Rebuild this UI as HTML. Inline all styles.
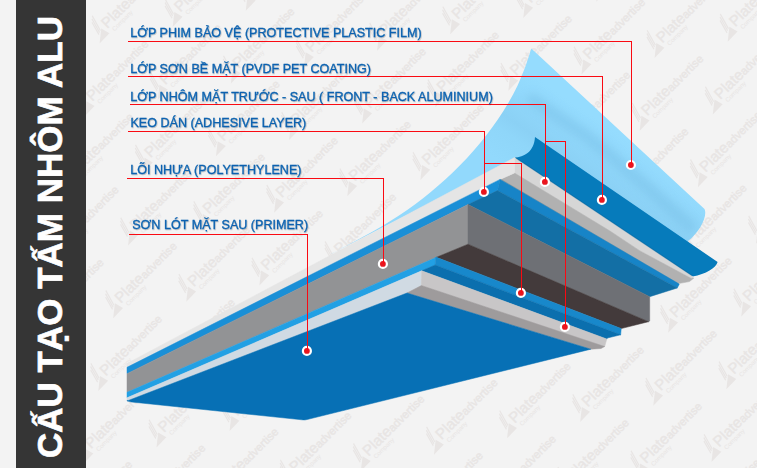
<!DOCTYPE html>
<html><head><meta charset="utf-8">
<style>
html,body{margin:0;padding:0;background:#f3f3f3;}
body{width:757px;height:468px;overflow:hidden;position:relative;font-family:"Liberation Sans",sans-serif;}
svg{position:absolute;left:0;top:0;display:block;}
.lb{font-family:"Liberation Sans",sans-serif;font-size:12.58px;fill:#0a62b0;stroke:#0a62b0;stroke-width:0.3px;}
</style></head><body>
<svg width="757" height="468" viewBox="0 0 757 468">
<defs>
<linearGradient id="filmg" x1="577.4" y1="214.5" x2="628.25" y2="140.25" gradientUnits="userSpaceOnUse">
<stop offset="0" stop-color="#92d9fc"/>
<stop offset="0.3" stop-color="#8fd6f9"/>
<stop offset="0.45" stop-color="#8bd1f5"/>
<stop offset="0.8" stop-color="#92d9fc"/>
<stop offset="1" stop-color="#95dcfe"/>
</linearGradient>
<filter id="blur4" x="-50%" y="-50%" width="200%" height="200%"><feGaussianBlur stdDeviation="4"/></filter>
<filter id="blur6" x="-50%" y="-50%" width="200%" height="200%"><feGaussianBlur stdDeviation="6"/></filter>
<filter id="tsh" x="-5%" y="-30%" width="110%" height="160%">
<feDropShadow dx="0.6" dy="0.8" stdDeviation="0.6" flood-color="#000" flood-opacity="0.28"/>
</filter>
</defs>
<rect x="0" y="0" width="757" height="468" fill="#f3f3f3"/>
<g>
<g fill="#e8e5e4"><g transform="translate(75.8,522.5)">
<g transform="rotate(-45)">
<g transform="translate(-1.7,-5.4)">
<path d="M-13.4,10.3 L0.8,10 L-1.6,0.9 Z"/>
<path d="M0.3,-14.5 L1.6,-14.5 L-3.1,1.8 L-4.4,1.8 Z"/>
<path d="M-2.1,-12.5 L-0.8,-12.5 L-5.0,2.5 L-6.3,2.5 Z"/>
<path d="M-4.5,-10 L-3.2,-10 L-6.9,3.5 L-8.2,3.5 Z"/>
</g>
<text x="0.5" y="0" font-family="Liberation Sans" font-size="15" stroke="#e8e5e4" stroke-width="0.35">Plate<tspan font-size="11.4">advertise</tspan></text>
<text x="4" y="7" font-family="Liberation Sans" font-size="6.2">Company</text>
</g></g>
<g transform="translate(90.7,449.7)">
<g transform="rotate(-45)">
<g transform="translate(-1.7,-5.4)">
<path d="M-13.4,10.3 L0.8,10 L-1.6,0.9 Z"/>
<path d="M0.3,-14.5 L1.6,-14.5 L-3.1,1.8 L-4.4,1.8 Z"/>
<path d="M-2.1,-12.5 L-0.8,-12.5 L-5.0,2.5 L-6.3,2.5 Z"/>
<path d="M-4.5,-10 L-3.2,-10 L-6.9,3.5 L-8.2,3.5 Z"/>
</g>
<text x="0.5" y="0" font-family="Liberation Sans" font-size="15" stroke="#e8e5e4" stroke-width="0.35">Plate<tspan font-size="11.4">advertise</tspan></text>
<text x="4" y="7" font-family="Liberation Sans" font-size="6.2">Company</text>
</g></g>
<g transform="translate(148.9,506.1)">
<g transform="rotate(-45)">
<g transform="translate(-1.7,-5.4)">
<path d="M-13.4,10.3 L0.8,10 L-1.6,0.9 Z"/>
<path d="M0.3,-14.5 L1.6,-14.5 L-3.1,1.8 L-4.4,1.8 Z"/>
<path d="M-2.1,-12.5 L-0.8,-12.5 L-5.0,2.5 L-6.3,2.5 Z"/>
<path d="M-4.5,-10 L-3.2,-10 L-6.9,3.5 L-8.2,3.5 Z"/>
</g>
<text x="0.5" y="0" font-family="Liberation Sans" font-size="15" stroke="#e8e5e4" stroke-width="0.35">Plate<tspan font-size="11.4">advertise</tspan></text>
<text x="4" y="7" font-family="Liberation Sans" font-size="6.2">Company</text>
</g></g>
<g transform="translate(47.3,320.5)">
<g transform="rotate(-45)">
<g transform="translate(-1.7,-5.4)">
<path d="M-13.4,10.3 L0.8,10 L-1.6,0.9 Z"/>
<path d="M0.3,-14.5 L1.6,-14.5 L-3.1,1.8 L-4.4,1.8 Z"/>
<path d="M-2.1,-12.5 L-0.8,-12.5 L-5.0,2.5 L-6.3,2.5 Z"/>
<path d="M-4.5,-10 L-3.2,-10 L-6.9,3.5 L-8.2,3.5 Z"/>
</g>
<text x="0.5" y="0" font-family="Liberation Sans" font-size="15" stroke="#e8e5e4" stroke-width="0.35">Plate<tspan font-size="11.4">advertise</tspan></text>
<text x="4" y="7" font-family="Liberation Sans" font-size="6.2">Company</text>
</g></g>
<g transform="translate(105.5,376.9)">
<g transform="rotate(-45)">
<g transform="translate(-1.7,-5.4)">
<path d="M-13.4,10.3 L0.8,10 L-1.6,0.9 Z"/>
<path d="M0.3,-14.5 L1.6,-14.5 L-3.1,1.8 L-4.4,1.8 Z"/>
<path d="M-2.1,-12.5 L-0.8,-12.5 L-5.0,2.5 L-6.3,2.5 Z"/>
<path d="M-4.5,-10 L-3.2,-10 L-6.9,3.5 L-8.2,3.5 Z"/>
</g>
<text x="0.5" y="0" font-family="Liberation Sans" font-size="15" stroke="#e8e5e4" stroke-width="0.35">Plate<tspan font-size="11.4">advertise</tspan></text>
<text x="4" y="7" font-family="Liberation Sans" font-size="6.2">Company</text>
</g></g>
<g transform="translate(163.7,433.3)">
<g transform="rotate(-45)">
<g transform="translate(-1.7,-5.4)">
<path d="M-13.4,10.3 L0.8,10 L-1.6,0.9 Z"/>
<path d="M0.3,-14.5 L1.6,-14.5 L-3.1,1.8 L-4.4,1.8 Z"/>
<path d="M-2.1,-12.5 L-0.8,-12.5 L-5.0,2.5 L-6.3,2.5 Z"/>
<path d="M-4.5,-10 L-3.2,-10 L-6.9,3.5 L-8.2,3.5 Z"/>
</g>
<text x="0.5" y="0" font-family="Liberation Sans" font-size="15" stroke="#e8e5e4" stroke-width="0.35">Plate<tspan font-size="11.4">advertise</tspan></text>
<text x="4" y="7" font-family="Liberation Sans" font-size="6.2">Company</text>
</g></g>
<g transform="translate(222.0,489.7)">
<g transform="rotate(-45)">
<g transform="translate(-1.7,-5.4)">
<path d="M-13.4,10.3 L0.8,10 L-1.6,0.9 Z"/>
<path d="M0.3,-14.5 L1.6,-14.5 L-3.1,1.8 L-4.4,1.8 Z"/>
<path d="M-2.1,-12.5 L-0.8,-12.5 L-5.0,2.5 L-6.3,2.5 Z"/>
<path d="M-4.5,-10 L-3.2,-10 L-6.9,3.5 L-8.2,3.5 Z"/>
</g>
<text x="0.5" y="0" font-family="Liberation Sans" font-size="15" stroke="#e8e5e4" stroke-width="0.35">Plate<tspan font-size="11.4">advertise</tspan></text>
<text x="4" y="7" font-family="Liberation Sans" font-size="6.2">Company</text>
</g></g>
<g transform="translate(62.2,247.7)">
<g transform="rotate(-45)">
<g transform="translate(-1.7,-5.4)">
<path d="M-13.4,10.3 L0.8,10 L-1.6,0.9 Z"/>
<path d="M0.3,-14.5 L1.6,-14.5 L-3.1,1.8 L-4.4,1.8 Z"/>
<path d="M-2.1,-12.5 L-0.8,-12.5 L-5.0,2.5 L-6.3,2.5 Z"/>
<path d="M-4.5,-10 L-3.2,-10 L-6.9,3.5 L-8.2,3.5 Z"/>
</g>
<text x="0.5" y="0" font-family="Liberation Sans" font-size="15" stroke="#e8e5e4" stroke-width="0.35">Plate<tspan font-size="11.4">advertise</tspan></text>
<text x="4" y="7" font-family="Liberation Sans" font-size="6.2">Company</text>
</g></g>
<g transform="translate(120.4,304.1)">
<g transform="rotate(-45)">
<g transform="translate(-1.7,-5.4)">
<path d="M-13.4,10.3 L0.8,10 L-1.6,0.9 Z"/>
<path d="M0.3,-14.5 L1.6,-14.5 L-3.1,1.8 L-4.4,1.8 Z"/>
<path d="M-2.1,-12.5 L-0.8,-12.5 L-5.0,2.5 L-6.3,2.5 Z"/>
<path d="M-4.5,-10 L-3.2,-10 L-6.9,3.5 L-8.2,3.5 Z"/>
</g>
<text x="0.5" y="0" font-family="Liberation Sans" font-size="15" stroke="#e8e5e4" stroke-width="0.35">Plate<tspan font-size="11.4">advertise</tspan></text>
<text x="4" y="7" font-family="Liberation Sans" font-size="6.2">Company</text>
</g></g>
<g transform="translate(178.6,360.5)">
<g transform="rotate(-45)">
<g transform="translate(-1.7,-5.4)">
<path d="M-13.4,10.3 L0.8,10 L-1.6,0.9 Z"/>
<path d="M0.3,-14.5 L1.6,-14.5 L-3.1,1.8 L-4.4,1.8 Z"/>
<path d="M-2.1,-12.5 L-0.8,-12.5 L-5.0,2.5 L-6.3,2.5 Z"/>
<path d="M-4.5,-10 L-3.2,-10 L-6.9,3.5 L-8.2,3.5 Z"/>
</g>
<text x="0.5" y="0" font-family="Liberation Sans" font-size="15" stroke="#e8e5e4" stroke-width="0.35">Plate<tspan font-size="11.4">advertise</tspan></text>
<text x="4" y="7" font-family="Liberation Sans" font-size="6.2">Company</text>
</g></g>
<g transform="translate(236.8,416.9)">
<g transform="rotate(-45)">
<g transform="translate(-1.7,-5.4)">
<path d="M-13.4,10.3 L0.8,10 L-1.6,0.9 Z"/>
<path d="M0.3,-14.5 L1.6,-14.5 L-3.1,1.8 L-4.4,1.8 Z"/>
<path d="M-2.1,-12.5 L-0.8,-12.5 L-5.0,2.5 L-6.3,2.5 Z"/>
<path d="M-4.5,-10 L-3.2,-10 L-6.9,3.5 L-8.2,3.5 Z"/>
</g>
<text x="0.5" y="0" font-family="Liberation Sans" font-size="15" stroke="#e8e5e4" stroke-width="0.35">Plate<tspan font-size="11.4">advertise</tspan></text>
<text x="4" y="7" font-family="Liberation Sans" font-size="6.2">Company</text>
</g></g>
<g transform="translate(295.0,473.4)">
<g transform="rotate(-45)">
<g transform="translate(-1.7,-5.4)">
<path d="M-13.4,10.3 L0.8,10 L-1.6,0.9 Z"/>
<path d="M0.3,-14.5 L1.6,-14.5 L-3.1,1.8 L-4.4,1.8 Z"/>
<path d="M-2.1,-12.5 L-0.8,-12.5 L-5.0,2.5 L-6.3,2.5 Z"/>
<path d="M-4.5,-10 L-3.2,-10 L-6.9,3.5 L-8.2,3.5 Z"/>
</g>
<text x="0.5" y="0" font-family="Liberation Sans" font-size="15" stroke="#e8e5e4" stroke-width="0.35">Plate<tspan font-size="11.4">advertise</tspan></text>
<text x="4" y="7" font-family="Liberation Sans" font-size="6.2">Company</text>
</g></g>
<g transform="translate(353.3,529.8)">
<g transform="rotate(-45)">
<g transform="translate(-1.7,-5.4)">
<path d="M-13.4,10.3 L0.8,10 L-1.6,0.9 Z"/>
<path d="M0.3,-14.5 L1.6,-14.5 L-3.1,1.8 L-4.4,1.8 Z"/>
<path d="M-2.1,-12.5 L-0.8,-12.5 L-5.0,2.5 L-6.3,2.5 Z"/>
<path d="M-4.5,-10 L-3.2,-10 L-6.9,3.5 L-8.2,3.5 Z"/>
</g>
<text x="0.5" y="0" font-family="Liberation Sans" font-size="15" stroke="#e8e5e4" stroke-width="0.35">Plate<tspan font-size="11.4">advertise</tspan></text>
<text x="4" y="7" font-family="Liberation Sans" font-size="6.2">Company</text>
</g></g>
<g transform="translate(77.0,174.9)">
<g transform="rotate(-45)">
<g transform="translate(-1.7,-5.4)">
<path d="M-13.4,10.3 L0.8,10 L-1.6,0.9 Z"/>
<path d="M0.3,-14.5 L1.6,-14.5 L-3.1,1.8 L-4.4,1.8 Z"/>
<path d="M-2.1,-12.5 L-0.8,-12.5 L-5.0,2.5 L-6.3,2.5 Z"/>
<path d="M-4.5,-10 L-3.2,-10 L-6.9,3.5 L-8.2,3.5 Z"/>
</g>
<text x="0.5" y="0" font-family="Liberation Sans" font-size="15" stroke="#e8e5e4" stroke-width="0.35">Plate<tspan font-size="11.4">advertise</tspan></text>
<text x="4" y="7" font-family="Liberation Sans" font-size="6.2">Company</text>
</g></g>
<g transform="translate(135.3,231.3)">
<g transform="rotate(-45)">
<g transform="translate(-1.7,-5.4)">
<path d="M-13.4,10.3 L0.8,10 L-1.6,0.9 Z"/>
<path d="M0.3,-14.5 L1.6,-14.5 L-3.1,1.8 L-4.4,1.8 Z"/>
<path d="M-2.1,-12.5 L-0.8,-12.5 L-5.0,2.5 L-6.3,2.5 Z"/>
<path d="M-4.5,-10 L-3.2,-10 L-6.9,3.5 L-8.2,3.5 Z"/>
</g>
<text x="0.5" y="0" font-family="Liberation Sans" font-size="15" stroke="#e8e5e4" stroke-width="0.35">Plate<tspan font-size="11.4">advertise</tspan></text>
<text x="4" y="7" font-family="Liberation Sans" font-size="6.2">Company</text>
</g></g>
<g transform="translate(193.5,287.7)">
<g transform="rotate(-45)">
<g transform="translate(-1.7,-5.4)">
<path d="M-13.4,10.3 L0.8,10 L-1.6,0.9 Z"/>
<path d="M0.3,-14.5 L1.6,-14.5 L-3.1,1.8 L-4.4,1.8 Z"/>
<path d="M-2.1,-12.5 L-0.8,-12.5 L-5.0,2.5 L-6.3,2.5 Z"/>
<path d="M-4.5,-10 L-3.2,-10 L-6.9,3.5 L-8.2,3.5 Z"/>
</g>
<text x="0.5" y="0" font-family="Liberation Sans" font-size="15" stroke="#e8e5e4" stroke-width="0.35">Plate<tspan font-size="11.4">advertise</tspan></text>
<text x="4" y="7" font-family="Liberation Sans" font-size="6.2">Company</text>
</g></g>
<g transform="translate(251.7,344.1)">
<g transform="rotate(-45)">
<g transform="translate(-1.7,-5.4)">
<path d="M-13.4,10.3 L0.8,10 L-1.6,0.9 Z"/>
<path d="M0.3,-14.5 L1.6,-14.5 L-3.1,1.8 L-4.4,1.8 Z"/>
<path d="M-2.1,-12.5 L-0.8,-12.5 L-5.0,2.5 L-6.3,2.5 Z"/>
<path d="M-4.5,-10 L-3.2,-10 L-6.9,3.5 L-8.2,3.5 Z"/>
</g>
<text x="0.5" y="0" font-family="Liberation Sans" font-size="15" stroke="#e8e5e4" stroke-width="0.35">Plate<tspan font-size="11.4">advertise</tspan></text>
<text x="4" y="7" font-family="Liberation Sans" font-size="6.2">Company</text>
</g></g>
<g transform="translate(309.9,400.6)">
<g transform="rotate(-45)">
<g transform="translate(-1.7,-5.4)">
<path d="M-13.4,10.3 L0.8,10 L-1.6,0.9 Z"/>
<path d="M0.3,-14.5 L1.6,-14.5 L-3.1,1.8 L-4.4,1.8 Z"/>
<path d="M-2.1,-12.5 L-0.8,-12.5 L-5.0,2.5 L-6.3,2.5 Z"/>
<path d="M-4.5,-10 L-3.2,-10 L-6.9,3.5 L-8.2,3.5 Z"/>
</g>
<text x="0.5" y="0" font-family="Liberation Sans" font-size="15" stroke="#e8e5e4" stroke-width="0.35">Plate<tspan font-size="11.4">advertise</tspan></text>
<text x="4" y="7" font-family="Liberation Sans" font-size="6.2">Company</text>
</g></g>
<g transform="translate(368.1,457.0)">
<g transform="rotate(-45)">
<g transform="translate(-1.7,-5.4)">
<path d="M-13.4,10.3 L0.8,10 L-1.6,0.9 Z"/>
<path d="M0.3,-14.5 L1.6,-14.5 L-3.1,1.8 L-4.4,1.8 Z"/>
<path d="M-2.1,-12.5 L-0.8,-12.5 L-5.0,2.5 L-6.3,2.5 Z"/>
<path d="M-4.5,-10 L-3.2,-10 L-6.9,3.5 L-8.2,3.5 Z"/>
</g>
<text x="0.5" y="0" font-family="Liberation Sans" font-size="15" stroke="#e8e5e4" stroke-width="0.35">Plate<tspan font-size="11.4">advertise</tspan></text>
<text x="4" y="7" font-family="Liberation Sans" font-size="6.2">Company</text>
</g></g>
<g transform="translate(426.4,513.4)">
<g transform="rotate(-45)">
<g transform="translate(-1.7,-5.4)">
<path d="M-13.4,10.3 L0.8,10 L-1.6,0.9 Z"/>
<path d="M0.3,-14.5 L1.6,-14.5 L-3.1,1.8 L-4.4,1.8 Z"/>
<path d="M-2.1,-12.5 L-0.8,-12.5 L-5.0,2.5 L-6.3,2.5 Z"/>
<path d="M-4.5,-10 L-3.2,-10 L-6.9,3.5 L-8.2,3.5 Z"/>
</g>
<text x="0.5" y="0" font-family="Liberation Sans" font-size="15" stroke="#e8e5e4" stroke-width="0.35">Plate<tspan font-size="11.4">advertise</tspan></text>
<text x="4" y="7" font-family="Liberation Sans" font-size="6.2">Company</text>
</g></g>
<g transform="translate(91.9,102.1)">
<g transform="rotate(-45)">
<g transform="translate(-1.7,-5.4)">
<path d="M-13.4,10.3 L0.8,10 L-1.6,0.9 Z"/>
<path d="M0.3,-14.5 L1.6,-14.5 L-3.1,1.8 L-4.4,1.8 Z"/>
<path d="M-2.1,-12.5 L-0.8,-12.5 L-5.0,2.5 L-6.3,2.5 Z"/>
<path d="M-4.5,-10 L-3.2,-10 L-6.9,3.5 L-8.2,3.5 Z"/>
</g>
<text x="0.5" y="0" font-family="Liberation Sans" font-size="15" stroke="#e8e5e4" stroke-width="0.35">Plate<tspan font-size="11.4">advertise</tspan></text>
<text x="4" y="7" font-family="Liberation Sans" font-size="6.2">Company</text>
</g></g>
<g transform="translate(150.1,158.5)">
<g transform="rotate(-45)">
<g transform="translate(-1.7,-5.4)">
<path d="M-13.4,10.3 L0.8,10 L-1.6,0.9 Z"/>
<path d="M0.3,-14.5 L1.6,-14.5 L-3.1,1.8 L-4.4,1.8 Z"/>
<path d="M-2.1,-12.5 L-0.8,-12.5 L-5.0,2.5 L-6.3,2.5 Z"/>
<path d="M-4.5,-10 L-3.2,-10 L-6.9,3.5 L-8.2,3.5 Z"/>
</g>
<text x="0.5" y="0" font-family="Liberation Sans" font-size="15" stroke="#e8e5e4" stroke-width="0.35">Plate<tspan font-size="11.4">advertise</tspan></text>
<text x="4" y="7" font-family="Liberation Sans" font-size="6.2">Company</text>
</g></g>
<g transform="translate(208.4,214.9)">
<g transform="rotate(-45)">
<g transform="translate(-1.7,-5.4)">
<path d="M-13.4,10.3 L0.8,10 L-1.6,0.9 Z"/>
<path d="M0.3,-14.5 L1.6,-14.5 L-3.1,1.8 L-4.4,1.8 Z"/>
<path d="M-2.1,-12.5 L-0.8,-12.5 L-5.0,2.5 L-6.3,2.5 Z"/>
<path d="M-4.5,-10 L-3.2,-10 L-6.9,3.5 L-8.2,3.5 Z"/>
</g>
<text x="0.5" y="0" font-family="Liberation Sans" font-size="15" stroke="#e8e5e4" stroke-width="0.35">Plate<tspan font-size="11.4">advertise</tspan></text>
<text x="4" y="7" font-family="Liberation Sans" font-size="6.2">Company</text>
</g></g>
<g transform="translate(266.6,271.4)">
<g transform="rotate(-45)">
<g transform="translate(-1.7,-5.4)">
<path d="M-13.4,10.3 L0.8,10 L-1.6,0.9 Z"/>
<path d="M0.3,-14.5 L1.6,-14.5 L-3.1,1.8 L-4.4,1.8 Z"/>
<path d="M-2.1,-12.5 L-0.8,-12.5 L-5.0,2.5 L-6.3,2.5 Z"/>
<path d="M-4.5,-10 L-3.2,-10 L-6.9,3.5 L-8.2,3.5 Z"/>
</g>
<text x="0.5" y="0" font-family="Liberation Sans" font-size="15" stroke="#e8e5e4" stroke-width="0.35">Plate<tspan font-size="11.4">advertise</tspan></text>
<text x="4" y="7" font-family="Liberation Sans" font-size="6.2">Company</text>
</g></g>
<g transform="translate(324.8,327.8)">
<g transform="rotate(-45)">
<g transform="translate(-1.7,-5.4)">
<path d="M-13.4,10.3 L0.8,10 L-1.6,0.9 Z"/>
<path d="M0.3,-14.5 L1.6,-14.5 L-3.1,1.8 L-4.4,1.8 Z"/>
<path d="M-2.1,-12.5 L-0.8,-12.5 L-5.0,2.5 L-6.3,2.5 Z"/>
<path d="M-4.5,-10 L-3.2,-10 L-6.9,3.5 L-8.2,3.5 Z"/>
</g>
<text x="0.5" y="0" font-family="Liberation Sans" font-size="15" stroke="#e8e5e4" stroke-width="0.35">Plate<tspan font-size="11.4">advertise</tspan></text>
<text x="4" y="7" font-family="Liberation Sans" font-size="6.2">Company</text>
</g></g>
<g transform="translate(383.0,384.2)">
<g transform="rotate(-45)">
<g transform="translate(-1.7,-5.4)">
<path d="M-13.4,10.3 L0.8,10 L-1.6,0.9 Z"/>
<path d="M0.3,-14.5 L1.6,-14.5 L-3.1,1.8 L-4.4,1.8 Z"/>
<path d="M-2.1,-12.5 L-0.8,-12.5 L-5.0,2.5 L-6.3,2.5 Z"/>
<path d="M-4.5,-10 L-3.2,-10 L-6.9,3.5 L-8.2,3.5 Z"/>
</g>
<text x="0.5" y="0" font-family="Liberation Sans" font-size="15" stroke="#e8e5e4" stroke-width="0.35">Plate<tspan font-size="11.4">advertise</tspan></text>
<text x="4" y="7" font-family="Liberation Sans" font-size="6.2">Company</text>
</g></g>
<g transform="translate(441.2,440.6)">
<g transform="rotate(-45)">
<g transform="translate(-1.7,-5.4)">
<path d="M-13.4,10.3 L0.8,10 L-1.6,0.9 Z"/>
<path d="M0.3,-14.5 L1.6,-14.5 L-3.1,1.8 L-4.4,1.8 Z"/>
<path d="M-2.1,-12.5 L-0.8,-12.5 L-5.0,2.5 L-6.3,2.5 Z"/>
<path d="M-4.5,-10 L-3.2,-10 L-6.9,3.5 L-8.2,3.5 Z"/>
</g>
<text x="0.5" y="0" font-family="Liberation Sans" font-size="15" stroke="#e8e5e4" stroke-width="0.35">Plate<tspan font-size="11.4">advertise</tspan></text>
<text x="4" y="7" font-family="Liberation Sans" font-size="6.2">Company</text>
</g></g>
<g transform="translate(499.5,497.0)">
<g transform="rotate(-45)">
<g transform="translate(-1.7,-5.4)">
<path d="M-13.4,10.3 L0.8,10 L-1.6,0.9 Z"/>
<path d="M0.3,-14.5 L1.6,-14.5 L-3.1,1.8 L-4.4,1.8 Z"/>
<path d="M-2.1,-12.5 L-0.8,-12.5 L-5.0,2.5 L-6.3,2.5 Z"/>
<path d="M-4.5,-10 L-3.2,-10 L-6.9,3.5 L-8.2,3.5 Z"/>
</g>
<text x="0.5" y="0" font-family="Liberation Sans" font-size="15" stroke="#e8e5e4" stroke-width="0.35">Plate<tspan font-size="11.4">advertise</tspan></text>
<text x="4" y="7" font-family="Liberation Sans" font-size="6.2">Company</text>
</g></g>
<g transform="translate(48.6,-27.1)">
<g transform="rotate(-45)">
<g transform="translate(-1.7,-5.4)">
<path d="M-13.4,10.3 L0.8,10 L-1.6,0.9 Z"/>
<path d="M0.3,-14.5 L1.6,-14.5 L-3.1,1.8 L-4.4,1.8 Z"/>
<path d="M-2.1,-12.5 L-0.8,-12.5 L-5.0,2.5 L-6.3,2.5 Z"/>
<path d="M-4.5,-10 L-3.2,-10 L-6.9,3.5 L-8.2,3.5 Z"/>
</g>
<text x="0.5" y="0" font-family="Liberation Sans" font-size="15" stroke="#e8e5e4" stroke-width="0.35">Plate<tspan font-size="11.4">advertise</tspan></text>
<text x="4" y="7" font-family="Liberation Sans" font-size="6.2">Company</text>
</g></g>
<g transform="translate(106.8,29.3)">
<g transform="rotate(-45)">
<g transform="translate(-1.7,-5.4)">
<path d="M-13.4,10.3 L0.8,10 L-1.6,0.9 Z"/>
<path d="M0.3,-14.5 L1.6,-14.5 L-3.1,1.8 L-4.4,1.8 Z"/>
<path d="M-2.1,-12.5 L-0.8,-12.5 L-5.0,2.5 L-6.3,2.5 Z"/>
<path d="M-4.5,-10 L-3.2,-10 L-6.9,3.5 L-8.2,3.5 Z"/>
</g>
<text x="0.5" y="0" font-family="Liberation Sans" font-size="15" stroke="#e8e5e4" stroke-width="0.35">Plate<tspan font-size="11.4">advertise</tspan></text>
<text x="4" y="7" font-family="Liberation Sans" font-size="6.2">Company</text>
</g></g>
<g transform="translate(165.0,85.7)">
<g transform="rotate(-45)">
<g transform="translate(-1.7,-5.4)">
<path d="M-13.4,10.3 L0.8,10 L-1.6,0.9 Z"/>
<path d="M0.3,-14.5 L1.6,-14.5 L-3.1,1.8 L-4.4,1.8 Z"/>
<path d="M-2.1,-12.5 L-0.8,-12.5 L-5.0,2.5 L-6.3,2.5 Z"/>
<path d="M-4.5,-10 L-3.2,-10 L-6.9,3.5 L-8.2,3.5 Z"/>
</g>
<text x="0.5" y="0" font-family="Liberation Sans" font-size="15" stroke="#e8e5e4" stroke-width="0.35">Plate<tspan font-size="11.4">advertise</tspan></text>
<text x="4" y="7" font-family="Liberation Sans" font-size="6.2">Company</text>
</g></g>
<g transform="translate(223.2,142.1)">
<g transform="rotate(-45)">
<g transform="translate(-1.7,-5.4)">
<path d="M-13.4,10.3 L0.8,10 L-1.6,0.9 Z"/>
<path d="M0.3,-14.5 L1.6,-14.5 L-3.1,1.8 L-4.4,1.8 Z"/>
<path d="M-2.1,-12.5 L-0.8,-12.5 L-5.0,2.5 L-6.3,2.5 Z"/>
<path d="M-4.5,-10 L-3.2,-10 L-6.9,3.5 L-8.2,3.5 Z"/>
</g>
<text x="0.5" y="0" font-family="Liberation Sans" font-size="15" stroke="#e8e5e4" stroke-width="0.35">Plate<tspan font-size="11.4">advertise</tspan></text>
<text x="4" y="7" font-family="Liberation Sans" font-size="6.2">Company</text>
</g></g>
<g transform="translate(281.4,198.6)">
<g transform="rotate(-45)">
<g transform="translate(-1.7,-5.4)">
<path d="M-13.4,10.3 L0.8,10 L-1.6,0.9 Z"/>
<path d="M0.3,-14.5 L1.6,-14.5 L-3.1,1.8 L-4.4,1.8 Z"/>
<path d="M-2.1,-12.5 L-0.8,-12.5 L-5.0,2.5 L-6.3,2.5 Z"/>
<path d="M-4.5,-10 L-3.2,-10 L-6.9,3.5 L-8.2,3.5 Z"/>
</g>
<text x="0.5" y="0" font-family="Liberation Sans" font-size="15" stroke="#e8e5e4" stroke-width="0.35">Plate<tspan font-size="11.4">advertise</tspan></text>
<text x="4" y="7" font-family="Liberation Sans" font-size="6.2">Company</text>
</g></g>
<g transform="translate(339.7,255.0)">
<g transform="rotate(-45)">
<g transform="translate(-1.7,-5.4)">
<path d="M-13.4,10.3 L0.8,10 L-1.6,0.9 Z"/>
<path d="M0.3,-14.5 L1.6,-14.5 L-3.1,1.8 L-4.4,1.8 Z"/>
<path d="M-2.1,-12.5 L-0.8,-12.5 L-5.0,2.5 L-6.3,2.5 Z"/>
<path d="M-4.5,-10 L-3.2,-10 L-6.9,3.5 L-8.2,3.5 Z"/>
</g>
<text x="0.5" y="0" font-family="Liberation Sans" font-size="15" stroke="#e8e5e4" stroke-width="0.35">Plate<tspan font-size="11.4">advertise</tspan></text>
<text x="4" y="7" font-family="Liberation Sans" font-size="6.2">Company</text>
</g></g>
<g transform="translate(397.9,311.4)">
<g transform="rotate(-45)">
<g transform="translate(-1.7,-5.4)">
<path d="M-13.4,10.3 L0.8,10 L-1.6,0.9 Z"/>
<path d="M0.3,-14.5 L1.6,-14.5 L-3.1,1.8 L-4.4,1.8 Z"/>
<path d="M-2.1,-12.5 L-0.8,-12.5 L-5.0,2.5 L-6.3,2.5 Z"/>
<path d="M-4.5,-10 L-3.2,-10 L-6.9,3.5 L-8.2,3.5 Z"/>
</g>
<text x="0.5" y="0" font-family="Liberation Sans" font-size="15" stroke="#e8e5e4" stroke-width="0.35">Plate<tspan font-size="11.4">advertise</tspan></text>
<text x="4" y="7" font-family="Liberation Sans" font-size="6.2">Company</text>
</g></g>
<g transform="translate(456.1,367.8)">
<g transform="rotate(-45)">
<g transform="translate(-1.7,-5.4)">
<path d="M-13.4,10.3 L0.8,10 L-1.6,0.9 Z"/>
<path d="M0.3,-14.5 L1.6,-14.5 L-3.1,1.8 L-4.4,1.8 Z"/>
<path d="M-2.1,-12.5 L-0.8,-12.5 L-5.0,2.5 L-6.3,2.5 Z"/>
<path d="M-4.5,-10 L-3.2,-10 L-6.9,3.5 L-8.2,3.5 Z"/>
</g>
<text x="0.5" y="0" font-family="Liberation Sans" font-size="15" stroke="#e8e5e4" stroke-width="0.35">Plate<tspan font-size="11.4">advertise</tspan></text>
<text x="4" y="7" font-family="Liberation Sans" font-size="6.2">Company</text>
</g></g>
<g transform="translate(514.3,424.2)">
<g transform="rotate(-45)">
<g transform="translate(-1.7,-5.4)">
<path d="M-13.4,10.3 L0.8,10 L-1.6,0.9 Z"/>
<path d="M0.3,-14.5 L1.6,-14.5 L-3.1,1.8 L-4.4,1.8 Z"/>
<path d="M-2.1,-12.5 L-0.8,-12.5 L-5.0,2.5 L-6.3,2.5 Z"/>
<path d="M-4.5,-10 L-3.2,-10 L-6.9,3.5 L-8.2,3.5 Z"/>
</g>
<text x="0.5" y="0" font-family="Liberation Sans" font-size="15" stroke="#e8e5e4" stroke-width="0.35">Plate<tspan font-size="11.4">advertise</tspan></text>
<text x="4" y="7" font-family="Liberation Sans" font-size="6.2">Company</text>
</g></g>
<g transform="translate(572.5,480.7)">
<g transform="rotate(-45)">
<g transform="translate(-1.7,-5.4)">
<path d="M-13.4,10.3 L0.8,10 L-1.6,0.9 Z"/>
<path d="M0.3,-14.5 L1.6,-14.5 L-3.1,1.8 L-4.4,1.8 Z"/>
<path d="M-2.1,-12.5 L-0.8,-12.5 L-5.0,2.5 L-6.3,2.5 Z"/>
<path d="M-4.5,-10 L-3.2,-10 L-6.9,3.5 L-8.2,3.5 Z"/>
</g>
<text x="0.5" y="0" font-family="Liberation Sans" font-size="15" stroke="#e8e5e4" stroke-width="0.35">Plate<tspan font-size="11.4">advertise</tspan></text>
<text x="4" y="7" font-family="Liberation Sans" font-size="6.2">Company</text>
</g></g>
<g transform="translate(630.8,537.1)">
<g transform="rotate(-45)">
<g transform="translate(-1.7,-5.4)">
<path d="M-13.4,10.3 L0.8,10 L-1.6,0.9 Z"/>
<path d="M0.3,-14.5 L1.6,-14.5 L-3.1,1.8 L-4.4,1.8 Z"/>
<path d="M-2.1,-12.5 L-0.8,-12.5 L-5.0,2.5 L-6.3,2.5 Z"/>
<path d="M-4.5,-10 L-3.2,-10 L-6.9,3.5 L-8.2,3.5 Z"/>
</g>
<text x="0.5" y="0" font-family="Liberation Sans" font-size="15" stroke="#e8e5e4" stroke-width="0.35">Plate<tspan font-size="11.4">advertise</tspan></text>
<text x="4" y="7" font-family="Liberation Sans" font-size="6.2">Company</text>
</g></g>
<g transform="translate(179.9,12.9)">
<g transform="rotate(-45)">
<g transform="translate(-1.7,-5.4)">
<path d="M-13.4,10.3 L0.8,10 L-1.6,0.9 Z"/>
<path d="M0.3,-14.5 L1.6,-14.5 L-3.1,1.8 L-4.4,1.8 Z"/>
<path d="M-2.1,-12.5 L-0.8,-12.5 L-5.0,2.5 L-6.3,2.5 Z"/>
<path d="M-4.5,-10 L-3.2,-10 L-6.9,3.5 L-8.2,3.5 Z"/>
</g>
<text x="0.5" y="0" font-family="Liberation Sans" font-size="15" stroke="#e8e5e4" stroke-width="0.35">Plate<tspan font-size="11.4">advertise</tspan></text>
<text x="4" y="7" font-family="Liberation Sans" font-size="6.2">Company</text>
</g></g>
<g transform="translate(238.1,69.4)">
<g transform="rotate(-45)">
<g transform="translate(-1.7,-5.4)">
<path d="M-13.4,10.3 L0.8,10 L-1.6,0.9 Z"/>
<path d="M0.3,-14.5 L1.6,-14.5 L-3.1,1.8 L-4.4,1.8 Z"/>
<path d="M-2.1,-12.5 L-0.8,-12.5 L-5.0,2.5 L-6.3,2.5 Z"/>
<path d="M-4.5,-10 L-3.2,-10 L-6.9,3.5 L-8.2,3.5 Z"/>
</g>
<text x="0.5" y="0" font-family="Liberation Sans" font-size="15" stroke="#e8e5e4" stroke-width="0.35">Plate<tspan font-size="11.4">advertise</tspan></text>
<text x="4" y="7" font-family="Liberation Sans" font-size="6.2">Company</text>
</g></g>
<g transform="translate(296.3,125.8)">
<g transform="rotate(-45)">
<g transform="translate(-1.7,-5.4)">
<path d="M-13.4,10.3 L0.8,10 L-1.6,0.9 Z"/>
<path d="M0.3,-14.5 L1.6,-14.5 L-3.1,1.8 L-4.4,1.8 Z"/>
<path d="M-2.1,-12.5 L-0.8,-12.5 L-5.0,2.5 L-6.3,2.5 Z"/>
<path d="M-4.5,-10 L-3.2,-10 L-6.9,3.5 L-8.2,3.5 Z"/>
</g>
<text x="0.5" y="0" font-family="Liberation Sans" font-size="15" stroke="#e8e5e4" stroke-width="0.35">Plate<tspan font-size="11.4">advertise</tspan></text>
<text x="4" y="7" font-family="Liberation Sans" font-size="6.2">Company</text>
</g></g>
<g transform="translate(354.5,182.2)">
<g transform="rotate(-45)">
<g transform="translate(-1.7,-5.4)">
<path d="M-13.4,10.3 L0.8,10 L-1.6,0.9 Z"/>
<path d="M0.3,-14.5 L1.6,-14.5 L-3.1,1.8 L-4.4,1.8 Z"/>
<path d="M-2.1,-12.5 L-0.8,-12.5 L-5.0,2.5 L-6.3,2.5 Z"/>
<path d="M-4.5,-10 L-3.2,-10 L-6.9,3.5 L-8.2,3.5 Z"/>
</g>
<text x="0.5" y="0" font-family="Liberation Sans" font-size="15" stroke="#e8e5e4" stroke-width="0.35">Plate<tspan font-size="11.4">advertise</tspan></text>
<text x="4" y="7" font-family="Liberation Sans" font-size="6.2">Company</text>
</g></g>
<g transform="translate(412.8,238.6)">
<g transform="rotate(-45)">
<g transform="translate(-1.7,-5.4)">
<path d="M-13.4,10.3 L0.8,10 L-1.6,0.9 Z"/>
<path d="M0.3,-14.5 L1.6,-14.5 L-3.1,1.8 L-4.4,1.8 Z"/>
<path d="M-2.1,-12.5 L-0.8,-12.5 L-5.0,2.5 L-6.3,2.5 Z"/>
<path d="M-4.5,-10 L-3.2,-10 L-6.9,3.5 L-8.2,3.5 Z"/>
</g>
<text x="0.5" y="0" font-family="Liberation Sans" font-size="15" stroke="#e8e5e4" stroke-width="0.35">Plate<tspan font-size="11.4">advertise</tspan></text>
<text x="4" y="7" font-family="Liberation Sans" font-size="6.2">Company</text>
</g></g>
<g transform="translate(471.0,295.0)">
<g transform="rotate(-45)">
<g transform="translate(-1.7,-5.4)">
<path d="M-13.4,10.3 L0.8,10 L-1.6,0.9 Z"/>
<path d="M0.3,-14.5 L1.6,-14.5 L-3.1,1.8 L-4.4,1.8 Z"/>
<path d="M-2.1,-12.5 L-0.8,-12.5 L-5.0,2.5 L-6.3,2.5 Z"/>
<path d="M-4.5,-10 L-3.2,-10 L-6.9,3.5 L-8.2,3.5 Z"/>
</g>
<text x="0.5" y="0" font-family="Liberation Sans" font-size="15" stroke="#e8e5e4" stroke-width="0.35">Plate<tspan font-size="11.4">advertise</tspan></text>
<text x="4" y="7" font-family="Liberation Sans" font-size="6.2">Company</text>
</g></g>
<g transform="translate(529.2,351.4)">
<g transform="rotate(-45)">
<g transform="translate(-1.7,-5.4)">
<path d="M-13.4,10.3 L0.8,10 L-1.6,0.9 Z"/>
<path d="M0.3,-14.5 L1.6,-14.5 L-3.1,1.8 L-4.4,1.8 Z"/>
<path d="M-2.1,-12.5 L-0.8,-12.5 L-5.0,2.5 L-6.3,2.5 Z"/>
<path d="M-4.5,-10 L-3.2,-10 L-6.9,3.5 L-8.2,3.5 Z"/>
</g>
<text x="0.5" y="0" font-family="Liberation Sans" font-size="15" stroke="#e8e5e4" stroke-width="0.35">Plate<tspan font-size="11.4">advertise</tspan></text>
<text x="4" y="7" font-family="Liberation Sans" font-size="6.2">Company</text>
</g></g>
<g transform="translate(587.4,407.9)">
<g transform="rotate(-45)">
<g transform="translate(-1.7,-5.4)">
<path d="M-13.4,10.3 L0.8,10 L-1.6,0.9 Z"/>
<path d="M0.3,-14.5 L1.6,-14.5 L-3.1,1.8 L-4.4,1.8 Z"/>
<path d="M-2.1,-12.5 L-0.8,-12.5 L-5.0,2.5 L-6.3,2.5 Z"/>
<path d="M-4.5,-10 L-3.2,-10 L-6.9,3.5 L-8.2,3.5 Z"/>
</g>
<text x="0.5" y="0" font-family="Liberation Sans" font-size="15" stroke="#e8e5e4" stroke-width="0.35">Plate<tspan font-size="11.4">advertise</tspan></text>
<text x="4" y="7" font-family="Liberation Sans" font-size="6.2">Company</text>
</g></g>
<g transform="translate(645.6,464.3)">
<g transform="rotate(-45)">
<g transform="translate(-1.7,-5.4)">
<path d="M-13.4,10.3 L0.8,10 L-1.6,0.9 Z"/>
<path d="M0.3,-14.5 L1.6,-14.5 L-3.1,1.8 L-4.4,1.8 Z"/>
<path d="M-2.1,-12.5 L-0.8,-12.5 L-5.0,2.5 L-6.3,2.5 Z"/>
<path d="M-4.5,-10 L-3.2,-10 L-6.9,3.5 L-8.2,3.5 Z"/>
</g>
<text x="0.5" y="0" font-family="Liberation Sans" font-size="15" stroke="#e8e5e4" stroke-width="0.35">Plate<tspan font-size="11.4">advertise</tspan></text>
<text x="4" y="7" font-family="Liberation Sans" font-size="6.2">Company</text>
</g></g>
<g transform="translate(703.8,520.7)">
<g transform="rotate(-45)">
<g transform="translate(-1.7,-5.4)">
<path d="M-13.4,10.3 L0.8,10 L-1.6,0.9 Z"/>
<path d="M0.3,-14.5 L1.6,-14.5 L-3.1,1.8 L-4.4,1.8 Z"/>
<path d="M-2.1,-12.5 L-0.8,-12.5 L-5.0,2.5 L-6.3,2.5 Z"/>
<path d="M-4.5,-10 L-3.2,-10 L-6.9,3.5 L-8.2,3.5 Z"/>
</g>
<text x="0.5" y="0" font-family="Liberation Sans" font-size="15" stroke="#e8e5e4" stroke-width="0.35">Plate<tspan font-size="11.4">advertise</tspan></text>
<text x="4" y="7" font-family="Liberation Sans" font-size="6.2">Company</text>
</g></g>
<g transform="translate(253.0,-3.4)">
<g transform="rotate(-45)">
<g transform="translate(-1.7,-5.4)">
<path d="M-13.4,10.3 L0.8,10 L-1.6,0.9 Z"/>
<path d="M0.3,-14.5 L1.6,-14.5 L-3.1,1.8 L-4.4,1.8 Z"/>
<path d="M-2.1,-12.5 L-0.8,-12.5 L-5.0,2.5 L-6.3,2.5 Z"/>
<path d="M-4.5,-10 L-3.2,-10 L-6.9,3.5 L-8.2,3.5 Z"/>
</g>
<text x="0.5" y="0" font-family="Liberation Sans" font-size="15" stroke="#e8e5e4" stroke-width="0.35">Plate<tspan font-size="11.4">advertise</tspan></text>
<text x="4" y="7" font-family="Liberation Sans" font-size="6.2">Company</text>
</g></g>
<g transform="translate(311.2,53.0)">
<g transform="rotate(-45)">
<g transform="translate(-1.7,-5.4)">
<path d="M-13.4,10.3 L0.8,10 L-1.6,0.9 Z"/>
<path d="M0.3,-14.5 L1.6,-14.5 L-3.1,1.8 L-4.4,1.8 Z"/>
<path d="M-2.1,-12.5 L-0.8,-12.5 L-5.0,2.5 L-6.3,2.5 Z"/>
<path d="M-4.5,-10 L-3.2,-10 L-6.9,3.5 L-8.2,3.5 Z"/>
</g>
<text x="0.5" y="0" font-family="Liberation Sans" font-size="15" stroke="#e8e5e4" stroke-width="0.35">Plate<tspan font-size="11.4">advertise</tspan></text>
<text x="4" y="7" font-family="Liberation Sans" font-size="6.2">Company</text>
</g></g>
<g transform="translate(369.4,109.4)">
<g transform="rotate(-45)">
<g transform="translate(-1.7,-5.4)">
<path d="M-13.4,10.3 L0.8,10 L-1.6,0.9 Z"/>
<path d="M0.3,-14.5 L1.6,-14.5 L-3.1,1.8 L-4.4,1.8 Z"/>
<path d="M-2.1,-12.5 L-0.8,-12.5 L-5.0,2.5 L-6.3,2.5 Z"/>
<path d="M-4.5,-10 L-3.2,-10 L-6.9,3.5 L-8.2,3.5 Z"/>
</g>
<text x="0.5" y="0" font-family="Liberation Sans" font-size="15" stroke="#e8e5e4" stroke-width="0.35">Plate<tspan font-size="11.4">advertise</tspan></text>
<text x="4" y="7" font-family="Liberation Sans" font-size="6.2">Company</text>
</g></g>
<g transform="translate(427.6,165.8)">
<g transform="rotate(-45)">
<g transform="translate(-1.7,-5.4)">
<path d="M-13.4,10.3 L0.8,10 L-1.6,0.9 Z"/>
<path d="M0.3,-14.5 L1.6,-14.5 L-3.1,1.8 L-4.4,1.8 Z"/>
<path d="M-2.1,-12.5 L-0.8,-12.5 L-5.0,2.5 L-6.3,2.5 Z"/>
<path d="M-4.5,-10 L-3.2,-10 L-6.9,3.5 L-8.2,3.5 Z"/>
</g>
<text x="0.5" y="0" font-family="Liberation Sans" font-size="15" stroke="#e8e5e4" stroke-width="0.35">Plate<tspan font-size="11.4">advertise</tspan></text>
<text x="4" y="7" font-family="Liberation Sans" font-size="6.2">Company</text>
</g></g>
<g transform="translate(485.8,222.2)">
<g transform="rotate(-45)">
<g transform="translate(-1.7,-5.4)">
<path d="M-13.4,10.3 L0.8,10 L-1.6,0.9 Z"/>
<path d="M0.3,-14.5 L1.6,-14.5 L-3.1,1.8 L-4.4,1.8 Z"/>
<path d="M-2.1,-12.5 L-0.8,-12.5 L-5.0,2.5 L-6.3,2.5 Z"/>
<path d="M-4.5,-10 L-3.2,-10 L-6.9,3.5 L-8.2,3.5 Z"/>
</g>
<text x="0.5" y="0" font-family="Liberation Sans" font-size="15" stroke="#e8e5e4" stroke-width="0.35">Plate<tspan font-size="11.4">advertise</tspan></text>
<text x="4" y="7" font-family="Liberation Sans" font-size="6.2">Company</text>
</g></g>
<g transform="translate(544.1,278.7)">
<g transform="rotate(-45)">
<g transform="translate(-1.7,-5.4)">
<path d="M-13.4,10.3 L0.8,10 L-1.6,0.9 Z"/>
<path d="M0.3,-14.5 L1.6,-14.5 L-3.1,1.8 L-4.4,1.8 Z"/>
<path d="M-2.1,-12.5 L-0.8,-12.5 L-5.0,2.5 L-6.3,2.5 Z"/>
<path d="M-4.5,-10 L-3.2,-10 L-6.9,3.5 L-8.2,3.5 Z"/>
</g>
<text x="0.5" y="0" font-family="Liberation Sans" font-size="15" stroke="#e8e5e4" stroke-width="0.35">Plate<tspan font-size="11.4">advertise</tspan></text>
<text x="4" y="7" font-family="Liberation Sans" font-size="6.2">Company</text>
</g></g>
<g transform="translate(602.3,335.1)">
<g transform="rotate(-45)">
<g transform="translate(-1.7,-5.4)">
<path d="M-13.4,10.3 L0.8,10 L-1.6,0.9 Z"/>
<path d="M0.3,-14.5 L1.6,-14.5 L-3.1,1.8 L-4.4,1.8 Z"/>
<path d="M-2.1,-12.5 L-0.8,-12.5 L-5.0,2.5 L-6.3,2.5 Z"/>
<path d="M-4.5,-10 L-3.2,-10 L-6.9,3.5 L-8.2,3.5 Z"/>
</g>
<text x="0.5" y="0" font-family="Liberation Sans" font-size="15" stroke="#e8e5e4" stroke-width="0.35">Plate<tspan font-size="11.4">advertise</tspan></text>
<text x="4" y="7" font-family="Liberation Sans" font-size="6.2">Company</text>
</g></g>
<g transform="translate(660.5,391.5)">
<g transform="rotate(-45)">
<g transform="translate(-1.7,-5.4)">
<path d="M-13.4,10.3 L0.8,10 L-1.6,0.9 Z"/>
<path d="M0.3,-14.5 L1.6,-14.5 L-3.1,1.8 L-4.4,1.8 Z"/>
<path d="M-2.1,-12.5 L-0.8,-12.5 L-5.0,2.5 L-6.3,2.5 Z"/>
<path d="M-4.5,-10 L-3.2,-10 L-6.9,3.5 L-8.2,3.5 Z"/>
</g>
<text x="0.5" y="0" font-family="Liberation Sans" font-size="15" stroke="#e8e5e4" stroke-width="0.35">Plate<tspan font-size="11.4">advertise</tspan></text>
<text x="4" y="7" font-family="Liberation Sans" font-size="6.2">Company</text>
</g></g>
<g transform="translate(718.7,447.9)">
<g transform="rotate(-45)">
<g transform="translate(-1.7,-5.4)">
<path d="M-13.4,10.3 L0.8,10 L-1.6,0.9 Z"/>
<path d="M0.3,-14.5 L1.6,-14.5 L-3.1,1.8 L-4.4,1.8 Z"/>
<path d="M-2.1,-12.5 L-0.8,-12.5 L-5.0,2.5 L-6.3,2.5 Z"/>
<path d="M-4.5,-10 L-3.2,-10 L-6.9,3.5 L-8.2,3.5 Z"/>
</g>
<text x="0.5" y="0" font-family="Liberation Sans" font-size="15" stroke="#e8e5e4" stroke-width="0.35">Plate<tspan font-size="11.4">advertise</tspan></text>
<text x="4" y="7" font-family="Liberation Sans" font-size="6.2">Company</text>
</g></g>
<g transform="translate(776.9,504.3)">
<g transform="rotate(-45)">
<g transform="translate(-1.7,-5.4)">
<path d="M-13.4,10.3 L0.8,10 L-1.6,0.9 Z"/>
<path d="M0.3,-14.5 L1.6,-14.5 L-3.1,1.8 L-4.4,1.8 Z"/>
<path d="M-2.1,-12.5 L-0.8,-12.5 L-5.0,2.5 L-6.3,2.5 Z"/>
<path d="M-4.5,-10 L-3.2,-10 L-6.9,3.5 L-8.2,3.5 Z"/>
</g>
<text x="0.5" y="0" font-family="Liberation Sans" font-size="15" stroke="#e8e5e4" stroke-width="0.35">Plate<tspan font-size="11.4">advertise</tspan></text>
<text x="4" y="7" font-family="Liberation Sans" font-size="6.2">Company</text>
</g></g>
<g transform="translate(326.1,-19.8)">
<g transform="rotate(-45)">
<g transform="translate(-1.7,-5.4)">
<path d="M-13.4,10.3 L0.8,10 L-1.6,0.9 Z"/>
<path d="M0.3,-14.5 L1.6,-14.5 L-3.1,1.8 L-4.4,1.8 Z"/>
<path d="M-2.1,-12.5 L-0.8,-12.5 L-5.0,2.5 L-6.3,2.5 Z"/>
<path d="M-4.5,-10 L-3.2,-10 L-6.9,3.5 L-8.2,3.5 Z"/>
</g>
<text x="0.5" y="0" font-family="Liberation Sans" font-size="15" stroke="#e8e5e4" stroke-width="0.35">Plate<tspan font-size="11.4">advertise</tspan></text>
<text x="4" y="7" font-family="Liberation Sans" font-size="6.2">Company</text>
</g></g>
<g transform="translate(384.3,36.6)">
<g transform="rotate(-45)">
<g transform="translate(-1.7,-5.4)">
<path d="M-13.4,10.3 L0.8,10 L-1.6,0.9 Z"/>
<path d="M0.3,-14.5 L1.6,-14.5 L-3.1,1.8 L-4.4,1.8 Z"/>
<path d="M-2.1,-12.5 L-0.8,-12.5 L-5.0,2.5 L-6.3,2.5 Z"/>
<path d="M-4.5,-10 L-3.2,-10 L-6.9,3.5 L-8.2,3.5 Z"/>
</g>
<text x="0.5" y="0" font-family="Liberation Sans" font-size="15" stroke="#e8e5e4" stroke-width="0.35">Plate<tspan font-size="11.4">advertise</tspan></text>
<text x="4" y="7" font-family="Liberation Sans" font-size="6.2">Company</text>
</g></g>
<g transform="translate(442.5,93.0)">
<g transform="rotate(-45)">
<g transform="translate(-1.7,-5.4)">
<path d="M-13.4,10.3 L0.8,10 L-1.6,0.9 Z"/>
<path d="M0.3,-14.5 L1.6,-14.5 L-3.1,1.8 L-4.4,1.8 Z"/>
<path d="M-2.1,-12.5 L-0.8,-12.5 L-5.0,2.5 L-6.3,2.5 Z"/>
<path d="M-4.5,-10 L-3.2,-10 L-6.9,3.5 L-8.2,3.5 Z"/>
</g>
<text x="0.5" y="0" font-family="Liberation Sans" font-size="15" stroke="#e8e5e4" stroke-width="0.35">Plate<tspan font-size="11.4">advertise</tspan></text>
<text x="4" y="7" font-family="Liberation Sans" font-size="6.2">Company</text>
</g></g>
<g transform="translate(500.7,149.4)">
<g transform="rotate(-45)">
<g transform="translate(-1.7,-5.4)">
<path d="M-13.4,10.3 L0.8,10 L-1.6,0.9 Z"/>
<path d="M0.3,-14.5 L1.6,-14.5 L-3.1,1.8 L-4.4,1.8 Z"/>
<path d="M-2.1,-12.5 L-0.8,-12.5 L-5.0,2.5 L-6.3,2.5 Z"/>
<path d="M-4.5,-10 L-3.2,-10 L-6.9,3.5 L-8.2,3.5 Z"/>
</g>
<text x="0.5" y="0" font-family="Liberation Sans" font-size="15" stroke="#e8e5e4" stroke-width="0.35">Plate<tspan font-size="11.4">advertise</tspan></text>
<text x="4" y="7" font-family="Liberation Sans" font-size="6.2">Company</text>
</g></g>
<g transform="translate(558.9,205.9)">
<g transform="rotate(-45)">
<g transform="translate(-1.7,-5.4)">
<path d="M-13.4,10.3 L0.8,10 L-1.6,0.9 Z"/>
<path d="M0.3,-14.5 L1.6,-14.5 L-3.1,1.8 L-4.4,1.8 Z"/>
<path d="M-2.1,-12.5 L-0.8,-12.5 L-5.0,2.5 L-6.3,2.5 Z"/>
<path d="M-4.5,-10 L-3.2,-10 L-6.9,3.5 L-8.2,3.5 Z"/>
</g>
<text x="0.5" y="0" font-family="Liberation Sans" font-size="15" stroke="#e8e5e4" stroke-width="0.35">Plate<tspan font-size="11.4">advertise</tspan></text>
<text x="4" y="7" font-family="Liberation Sans" font-size="6.2">Company</text>
</g></g>
<g transform="translate(617.2,262.3)">
<g transform="rotate(-45)">
<g transform="translate(-1.7,-5.4)">
<path d="M-13.4,10.3 L0.8,10 L-1.6,0.9 Z"/>
<path d="M0.3,-14.5 L1.6,-14.5 L-3.1,1.8 L-4.4,1.8 Z"/>
<path d="M-2.1,-12.5 L-0.8,-12.5 L-5.0,2.5 L-6.3,2.5 Z"/>
<path d="M-4.5,-10 L-3.2,-10 L-6.9,3.5 L-8.2,3.5 Z"/>
</g>
<text x="0.5" y="0" font-family="Liberation Sans" font-size="15" stroke="#e8e5e4" stroke-width="0.35">Plate<tspan font-size="11.4">advertise</tspan></text>
<text x="4" y="7" font-family="Liberation Sans" font-size="6.2">Company</text>
</g></g>
<g transform="translate(675.4,318.7)">
<g transform="rotate(-45)">
<g transform="translate(-1.7,-5.4)">
<path d="M-13.4,10.3 L0.8,10 L-1.6,0.9 Z"/>
<path d="M0.3,-14.5 L1.6,-14.5 L-3.1,1.8 L-4.4,1.8 Z"/>
<path d="M-2.1,-12.5 L-0.8,-12.5 L-5.0,2.5 L-6.3,2.5 Z"/>
<path d="M-4.5,-10 L-3.2,-10 L-6.9,3.5 L-8.2,3.5 Z"/>
</g>
<text x="0.5" y="0" font-family="Liberation Sans" font-size="15" stroke="#e8e5e4" stroke-width="0.35">Plate<tspan font-size="11.4">advertise</tspan></text>
<text x="4" y="7" font-family="Liberation Sans" font-size="6.2">Company</text>
</g></g>
<g transform="translate(733.6,375.1)">
<g transform="rotate(-45)">
<g transform="translate(-1.7,-5.4)">
<path d="M-13.4,10.3 L0.8,10 L-1.6,0.9 Z"/>
<path d="M0.3,-14.5 L1.6,-14.5 L-3.1,1.8 L-4.4,1.8 Z"/>
<path d="M-2.1,-12.5 L-0.8,-12.5 L-5.0,2.5 L-6.3,2.5 Z"/>
<path d="M-4.5,-10 L-3.2,-10 L-6.9,3.5 L-8.2,3.5 Z"/>
</g>
<text x="0.5" y="0" font-family="Liberation Sans" font-size="15" stroke="#e8e5e4" stroke-width="0.35">Plate<tspan font-size="11.4">advertise</tspan></text>
<text x="4" y="7" font-family="Liberation Sans" font-size="6.2">Company</text>
</g></g>
<g transform="translate(791.8,431.6)">
<g transform="rotate(-45)">
<g transform="translate(-1.7,-5.4)">
<path d="M-13.4,10.3 L0.8,10 L-1.6,0.9 Z"/>
<path d="M0.3,-14.5 L1.6,-14.5 L-3.1,1.8 L-4.4,1.8 Z"/>
<path d="M-2.1,-12.5 L-0.8,-12.5 L-5.0,2.5 L-6.3,2.5 Z"/>
<path d="M-4.5,-10 L-3.2,-10 L-6.9,3.5 L-8.2,3.5 Z"/>
</g>
<text x="0.5" y="0" font-family="Liberation Sans" font-size="15" stroke="#e8e5e4" stroke-width="0.35">Plate<tspan font-size="11.4">advertise</tspan></text>
<text x="4" y="7" font-family="Liberation Sans" font-size="6.2">Company</text>
</g></g>
<g transform="translate(399.1,-36.2)">
<g transform="rotate(-45)">
<g transform="translate(-1.7,-5.4)">
<path d="M-13.4,10.3 L0.8,10 L-1.6,0.9 Z"/>
<path d="M0.3,-14.5 L1.6,-14.5 L-3.1,1.8 L-4.4,1.8 Z"/>
<path d="M-2.1,-12.5 L-0.8,-12.5 L-5.0,2.5 L-6.3,2.5 Z"/>
<path d="M-4.5,-10 L-3.2,-10 L-6.9,3.5 L-8.2,3.5 Z"/>
</g>
<text x="0.5" y="0" font-family="Liberation Sans" font-size="15" stroke="#e8e5e4" stroke-width="0.35">Plate<tspan font-size="11.4">advertise</tspan></text>
<text x="4" y="7" font-family="Liberation Sans" font-size="6.2">Company</text>
</g></g>
<g transform="translate(457.4,20.2)">
<g transform="rotate(-45)">
<g transform="translate(-1.7,-5.4)">
<path d="M-13.4,10.3 L0.8,10 L-1.6,0.9 Z"/>
<path d="M0.3,-14.5 L1.6,-14.5 L-3.1,1.8 L-4.4,1.8 Z"/>
<path d="M-2.1,-12.5 L-0.8,-12.5 L-5.0,2.5 L-6.3,2.5 Z"/>
<path d="M-4.5,-10 L-3.2,-10 L-6.9,3.5 L-8.2,3.5 Z"/>
</g>
<text x="0.5" y="0" font-family="Liberation Sans" font-size="15" stroke="#e8e5e4" stroke-width="0.35">Plate<tspan font-size="11.4">advertise</tspan></text>
<text x="4" y="7" font-family="Liberation Sans" font-size="6.2">Company</text>
</g></g>
<g transform="translate(515.6,76.7)">
<g transform="rotate(-45)">
<g transform="translate(-1.7,-5.4)">
<path d="M-13.4,10.3 L0.8,10 L-1.6,0.9 Z"/>
<path d="M0.3,-14.5 L1.6,-14.5 L-3.1,1.8 L-4.4,1.8 Z"/>
<path d="M-2.1,-12.5 L-0.8,-12.5 L-5.0,2.5 L-6.3,2.5 Z"/>
<path d="M-4.5,-10 L-3.2,-10 L-6.9,3.5 L-8.2,3.5 Z"/>
</g>
<text x="0.5" y="0" font-family="Liberation Sans" font-size="15" stroke="#e8e5e4" stroke-width="0.35">Plate<tspan font-size="11.4">advertise</tspan></text>
<text x="4" y="7" font-family="Liberation Sans" font-size="6.2">Company</text>
</g></g>
<g transform="translate(573.8,133.1)">
<g transform="rotate(-45)">
<g transform="translate(-1.7,-5.4)">
<path d="M-13.4,10.3 L0.8,10 L-1.6,0.9 Z"/>
<path d="M0.3,-14.5 L1.6,-14.5 L-3.1,1.8 L-4.4,1.8 Z"/>
<path d="M-2.1,-12.5 L-0.8,-12.5 L-5.0,2.5 L-6.3,2.5 Z"/>
<path d="M-4.5,-10 L-3.2,-10 L-6.9,3.5 L-8.2,3.5 Z"/>
</g>
<text x="0.5" y="0" font-family="Liberation Sans" font-size="15" stroke="#e8e5e4" stroke-width="0.35">Plate<tspan font-size="11.4">advertise</tspan></text>
<text x="4" y="7" font-family="Liberation Sans" font-size="6.2">Company</text>
</g></g>
<g transform="translate(632.0,189.5)">
<g transform="rotate(-45)">
<g transform="translate(-1.7,-5.4)">
<path d="M-13.4,10.3 L0.8,10 L-1.6,0.9 Z"/>
<path d="M0.3,-14.5 L1.6,-14.5 L-3.1,1.8 L-4.4,1.8 Z"/>
<path d="M-2.1,-12.5 L-0.8,-12.5 L-5.0,2.5 L-6.3,2.5 Z"/>
<path d="M-4.5,-10 L-3.2,-10 L-6.9,3.5 L-8.2,3.5 Z"/>
</g>
<text x="0.5" y="0" font-family="Liberation Sans" font-size="15" stroke="#e8e5e4" stroke-width="0.35">Plate<tspan font-size="11.4">advertise</tspan></text>
<text x="4" y="7" font-family="Liberation Sans" font-size="6.2">Company</text>
</g></g>
<g transform="translate(690.2,245.9)">
<g transform="rotate(-45)">
<g transform="translate(-1.7,-5.4)">
<path d="M-13.4,10.3 L0.8,10 L-1.6,0.9 Z"/>
<path d="M0.3,-14.5 L1.6,-14.5 L-3.1,1.8 L-4.4,1.8 Z"/>
<path d="M-2.1,-12.5 L-0.8,-12.5 L-5.0,2.5 L-6.3,2.5 Z"/>
<path d="M-4.5,-10 L-3.2,-10 L-6.9,3.5 L-8.2,3.5 Z"/>
</g>
<text x="0.5" y="0" font-family="Liberation Sans" font-size="15" stroke="#e8e5e4" stroke-width="0.35">Plate<tspan font-size="11.4">advertise</tspan></text>
<text x="4" y="7" font-family="Liberation Sans" font-size="6.2">Company</text>
</g></g>
<g transform="translate(748.5,302.3)">
<g transform="rotate(-45)">
<g transform="translate(-1.7,-5.4)">
<path d="M-13.4,10.3 L0.8,10 L-1.6,0.9 Z"/>
<path d="M0.3,-14.5 L1.6,-14.5 L-3.1,1.8 L-4.4,1.8 Z"/>
<path d="M-2.1,-12.5 L-0.8,-12.5 L-5.0,2.5 L-6.3,2.5 Z"/>
<path d="M-4.5,-10 L-3.2,-10 L-6.9,3.5 L-8.2,3.5 Z"/>
</g>
<text x="0.5" y="0" font-family="Liberation Sans" font-size="15" stroke="#e8e5e4" stroke-width="0.35">Plate<tspan font-size="11.4">advertise</tspan></text>
<text x="4" y="7" font-family="Liberation Sans" font-size="6.2">Company</text>
</g></g>
<g transform="translate(530.5,3.9)">
<g transform="rotate(-45)">
<g transform="translate(-1.7,-5.4)">
<path d="M-13.4,10.3 L0.8,10 L-1.6,0.9 Z"/>
<path d="M0.3,-14.5 L1.6,-14.5 L-3.1,1.8 L-4.4,1.8 Z"/>
<path d="M-2.1,-12.5 L-0.8,-12.5 L-5.0,2.5 L-6.3,2.5 Z"/>
<path d="M-4.5,-10 L-3.2,-10 L-6.9,3.5 L-8.2,3.5 Z"/>
</g>
<text x="0.5" y="0" font-family="Liberation Sans" font-size="15" stroke="#e8e5e4" stroke-width="0.35">Plate<tspan font-size="11.4">advertise</tspan></text>
<text x="4" y="7" font-family="Liberation Sans" font-size="6.2">Company</text>
</g></g>
<g transform="translate(588.7,60.3)">
<g transform="rotate(-45)">
<g transform="translate(-1.7,-5.4)">
<path d="M-13.4,10.3 L0.8,10 L-1.6,0.9 Z"/>
<path d="M0.3,-14.5 L1.6,-14.5 L-3.1,1.8 L-4.4,1.8 Z"/>
<path d="M-2.1,-12.5 L-0.8,-12.5 L-5.0,2.5 L-6.3,2.5 Z"/>
<path d="M-4.5,-10 L-3.2,-10 L-6.9,3.5 L-8.2,3.5 Z"/>
</g>
<text x="0.5" y="0" font-family="Liberation Sans" font-size="15" stroke="#e8e5e4" stroke-width="0.35">Plate<tspan font-size="11.4">advertise</tspan></text>
<text x="4" y="7" font-family="Liberation Sans" font-size="6.2">Company</text>
</g></g>
<g transform="translate(646.9,116.7)">
<g transform="rotate(-45)">
<g transform="translate(-1.7,-5.4)">
<path d="M-13.4,10.3 L0.8,10 L-1.6,0.9 Z"/>
<path d="M0.3,-14.5 L1.6,-14.5 L-3.1,1.8 L-4.4,1.8 Z"/>
<path d="M-2.1,-12.5 L-0.8,-12.5 L-5.0,2.5 L-6.3,2.5 Z"/>
<path d="M-4.5,-10 L-3.2,-10 L-6.9,3.5 L-8.2,3.5 Z"/>
</g>
<text x="0.5" y="0" font-family="Liberation Sans" font-size="15" stroke="#e8e5e4" stroke-width="0.35">Plate<tspan font-size="11.4">advertise</tspan></text>
<text x="4" y="7" font-family="Liberation Sans" font-size="6.2">Company</text>
</g></g>
<g transform="translate(705.1,173.1)">
<g transform="rotate(-45)">
<g transform="translate(-1.7,-5.4)">
<path d="M-13.4,10.3 L0.8,10 L-1.6,0.9 Z"/>
<path d="M0.3,-14.5 L1.6,-14.5 L-3.1,1.8 L-4.4,1.8 Z"/>
<path d="M-2.1,-12.5 L-0.8,-12.5 L-5.0,2.5 L-6.3,2.5 Z"/>
<path d="M-4.5,-10 L-3.2,-10 L-6.9,3.5 L-8.2,3.5 Z"/>
</g>
<text x="0.5" y="0" font-family="Liberation Sans" font-size="15" stroke="#e8e5e4" stroke-width="0.35">Plate<tspan font-size="11.4">advertise</tspan></text>
<text x="4" y="7" font-family="Liberation Sans" font-size="6.2">Company</text>
</g></g>
<g transform="translate(763.3,229.5)">
<g transform="rotate(-45)">
<g transform="translate(-1.7,-5.4)">
<path d="M-13.4,10.3 L0.8,10 L-1.6,0.9 Z"/>
<path d="M0.3,-14.5 L1.6,-14.5 L-3.1,1.8 L-4.4,1.8 Z"/>
<path d="M-2.1,-12.5 L-0.8,-12.5 L-5.0,2.5 L-6.3,2.5 Z"/>
<path d="M-4.5,-10 L-3.2,-10 L-6.9,3.5 L-8.2,3.5 Z"/>
</g>
<text x="0.5" y="0" font-family="Liberation Sans" font-size="15" stroke="#e8e5e4" stroke-width="0.35">Plate<tspan font-size="11.4">advertise</tspan></text>
<text x="4" y="7" font-family="Liberation Sans" font-size="6.2">Company</text>
</g></g>
<g transform="translate(603.5,-12.5)">
<g transform="rotate(-45)">
<g transform="translate(-1.7,-5.4)">
<path d="M-13.4,10.3 L0.8,10 L-1.6,0.9 Z"/>
<path d="M0.3,-14.5 L1.6,-14.5 L-3.1,1.8 L-4.4,1.8 Z"/>
<path d="M-2.1,-12.5 L-0.8,-12.5 L-5.0,2.5 L-6.3,2.5 Z"/>
<path d="M-4.5,-10 L-3.2,-10 L-6.9,3.5 L-8.2,3.5 Z"/>
</g>
<text x="0.5" y="0" font-family="Liberation Sans" font-size="15" stroke="#e8e5e4" stroke-width="0.35">Plate<tspan font-size="11.4">advertise</tspan></text>
<text x="4" y="7" font-family="Liberation Sans" font-size="6.2">Company</text>
</g></g>
<g transform="translate(661.8,43.9)">
<g transform="rotate(-45)">
<g transform="translate(-1.7,-5.4)">
<path d="M-13.4,10.3 L0.8,10 L-1.6,0.9 Z"/>
<path d="M0.3,-14.5 L1.6,-14.5 L-3.1,1.8 L-4.4,1.8 Z"/>
<path d="M-2.1,-12.5 L-0.8,-12.5 L-5.0,2.5 L-6.3,2.5 Z"/>
<path d="M-4.5,-10 L-3.2,-10 L-6.9,3.5 L-8.2,3.5 Z"/>
</g>
<text x="0.5" y="0" font-family="Liberation Sans" font-size="15" stroke="#e8e5e4" stroke-width="0.35">Plate<tspan font-size="11.4">advertise</tspan></text>
<text x="4" y="7" font-family="Liberation Sans" font-size="6.2">Company</text>
</g></g>
<g transform="translate(720.0,100.3)">
<g transform="rotate(-45)">
<g transform="translate(-1.7,-5.4)">
<path d="M-13.4,10.3 L0.8,10 L-1.6,0.9 Z"/>
<path d="M0.3,-14.5 L1.6,-14.5 L-3.1,1.8 L-4.4,1.8 Z"/>
<path d="M-2.1,-12.5 L-0.8,-12.5 L-5.0,2.5 L-6.3,2.5 Z"/>
<path d="M-4.5,-10 L-3.2,-10 L-6.9,3.5 L-8.2,3.5 Z"/>
</g>
<text x="0.5" y="0" font-family="Liberation Sans" font-size="15" stroke="#e8e5e4" stroke-width="0.35">Plate<tspan font-size="11.4">advertise</tspan></text>
<text x="4" y="7" font-family="Liberation Sans" font-size="6.2">Company</text>
</g></g>
<g transform="translate(778.2,156.8)">
<g transform="rotate(-45)">
<g transform="translate(-1.7,-5.4)">
<path d="M-13.4,10.3 L0.8,10 L-1.6,0.9 Z"/>
<path d="M0.3,-14.5 L1.6,-14.5 L-3.1,1.8 L-4.4,1.8 Z"/>
<path d="M-2.1,-12.5 L-0.8,-12.5 L-5.0,2.5 L-6.3,2.5 Z"/>
<path d="M-4.5,-10 L-3.2,-10 L-6.9,3.5 L-8.2,3.5 Z"/>
</g>
<text x="0.5" y="0" font-family="Liberation Sans" font-size="15" stroke="#e8e5e4" stroke-width="0.35">Plate<tspan font-size="11.4">advertise</tspan></text>
<text x="4" y="7" font-family="Liberation Sans" font-size="6.2">Company</text>
</g></g>
<g transform="translate(676.6,-28.9)">
<g transform="rotate(-45)">
<g transform="translate(-1.7,-5.4)">
<path d="M-13.4,10.3 L0.8,10 L-1.6,0.9 Z"/>
<path d="M0.3,-14.5 L1.6,-14.5 L-3.1,1.8 L-4.4,1.8 Z"/>
<path d="M-2.1,-12.5 L-0.8,-12.5 L-5.0,2.5 L-6.3,2.5 Z"/>
<path d="M-4.5,-10 L-3.2,-10 L-6.9,3.5 L-8.2,3.5 Z"/>
</g>
<text x="0.5" y="0" font-family="Liberation Sans" font-size="15" stroke="#e8e5e4" stroke-width="0.35">Plate<tspan font-size="11.4">advertise</tspan></text>
<text x="4" y="7" font-family="Liberation Sans" font-size="6.2">Company</text>
</g></g>
<g transform="translate(734.9,27.5)">
<g transform="rotate(-45)">
<g transform="translate(-1.7,-5.4)">
<path d="M-13.4,10.3 L0.8,10 L-1.6,0.9 Z"/>
<path d="M0.3,-14.5 L1.6,-14.5 L-3.1,1.8 L-4.4,1.8 Z"/>
<path d="M-2.1,-12.5 L-0.8,-12.5 L-5.0,2.5 L-6.3,2.5 Z"/>
<path d="M-4.5,-10 L-3.2,-10 L-6.9,3.5 L-8.2,3.5 Z"/>
</g>
<text x="0.5" y="0" font-family="Liberation Sans" font-size="15" stroke="#e8e5e4" stroke-width="0.35">Plate<tspan font-size="11.4">advertise</tspan></text>
<text x="4" y="7" font-family="Liberation Sans" font-size="6.2">Company</text>
</g></g>
<g transform="translate(793.1,84.0)">
<g transform="rotate(-45)">
<g transform="translate(-1.7,-5.4)">
<path d="M-13.4,10.3 L0.8,10 L-1.6,0.9 Z"/>
<path d="M0.3,-14.5 L1.6,-14.5 L-3.1,1.8 L-4.4,1.8 Z"/>
<path d="M-2.1,-12.5 L-0.8,-12.5 L-5.0,2.5 L-6.3,2.5 Z"/>
<path d="M-4.5,-10 L-3.2,-10 L-6.9,3.5 L-8.2,3.5 Z"/>
</g>
<text x="0.5" y="0" font-family="Liberation Sans" font-size="15" stroke="#e8e5e4" stroke-width="0.35">Plate<tspan font-size="11.4">advertise</tspan></text>
<text x="4" y="7" font-family="Liberation Sans" font-size="6.2">Company</text>
</g></g></g>
</g>
<!-- left bar -->
<rect x="16" y="0" width="70" height="468" fill="#353535"/>
<text transform="translate(62.3,458) rotate(-90)" font-family="Liberation Sans" font-weight="bold" font-size="35" fill="#ffffff" stroke="#ffffff" stroke-width="0.7">CẤU TẠO TẤM NHÔM ALU</text>

<path d="M531.3,48.4 L704.5,209 C708,216 699,233 688,241 L692,252 L600,188 L514.5,160 L330,254.5 C332.9,252.9 341.7,248.3 347.5,245.2 C353.3,242.1 359.2,239.0 365.0,235.8 C370.8,232.6 376.6,229.4 382.3,226.0 C388.0,222.6 393.5,219.1 399.0,215.5 C404.5,211.9 409.9,208.1 415.2,204.2 C420.5,200.3 425.7,196.3 430.8,192.1 C435.9,187.9 440.9,183.6 445.8,179.1 C450.7,174.6 455.4,170.0 460.0,165.3 C464.6,160.6 469.1,155.7 473.5,150.7 C477.9,145.7 482.1,140.6 486.1,135.4 C490.2,130.2 494.1,124.8 497.8,119.4 C501.5,114.0 505.1,108.5 508.4,102.8 C511.7,97.1 514.8,91.4 517.6,85.4 C520.4,79.5 522.9,73.3 525.2,67.1 C527.5,60.9 530.3,51.5 531.3,48.4 Z" fill="url(#filmg)"/>
<clipPath id="filmclip"><path d="M531.3,48.4 L704.5,209 C708,216 699,233 688,241 L692,252 L600,188 L514.5,160 L330,254.5 C332.9,252.9 341.7,248.3 347.5,245.2 C353.3,242.1 359.2,239.0 365.0,235.8 C370.8,232.6 376.6,229.4 382.3,226.0 C388.0,222.6 393.5,219.1 399.0,215.5 C404.5,211.9 409.9,208.1 415.2,204.2 C420.5,200.3 425.7,196.3 430.8,192.1 C435.9,187.9 440.9,183.6 445.8,179.1 C450.7,174.6 455.4,170.0 460.0,165.3 C464.6,160.6 469.1,155.7 473.5,150.7 C477.9,145.7 482.1,140.6 486.1,135.4 C490.2,130.2 494.1,124.8 497.8,119.4 C501.5,114.0 505.1,108.5 508.4,102.8 C511.7,97.1 514.8,91.4 517.6,85.4 C520.4,79.5 522.9,73.3 525.2,67.1 C527.5,60.9 530.3,51.5 531.3,48.4 Z"/></clipPath>
<g clip-path="url(#filmclip)">
<path d="M533,100 L555,115 L585,135 L610,155 L650,190 L690,226" stroke="#7ac0e6" stroke-width="12" fill="none" stroke-linecap="round" filter="url(#blur4)" opacity="0.5"/>

</g>
<path d="M535,137 L717.6,262 C716,268 706,274 692.6,276.5 L514.5,157.6 C524,157 534,152 535,137 Z" fill="#067bbb"/>
<path d="M514.5,157.6 L692.6,276.5 L693.6,278.3 L691.3,278.5 L640,250.9 L610,231 L570,206.7 L514.5,173 Z" fill="#d6d6d6" stroke="#d6d6d6" stroke-width="0.5" stroke-linejoin="round"/>
<path d="M514.5,173 L570,206.7 L610,231 L640,250.9 L691.3,278.5 L693.6,278.3 L689.4,281.6 L678.5,283.6 L500.1,179.4 Z" fill="#b1b1b1" stroke="#b1b1b1" stroke-width="0.5" stroke-linejoin="round"/>
<path d="M516,158 L692,275.6" fill="none" stroke="#05649c" stroke-width="1.2" opacity="0.5"/>
<path d="M501,179.6 L678.5,284.2" fill="none" stroke="#999999" stroke-width="1.3" opacity="0.8"/>
<path d="M127,363.4 L514.5,157.6 L514.5,173 L500.1,179.4 L127,367.3 Z" fill="#e5e5e5" stroke="#e5e5e5" stroke-width="0.5" stroke-linejoin="round"/>
<path d="M127,367.3 L500.1,179.4 L497.5,190.6 L468,204.5 L127,373.7 Z" fill="#1a8fd6" stroke="#1a8fd6" stroke-width="0.5" stroke-linejoin="round"/>
<path d="M500.1,179.4 L678.5,283.6 L679.2,284.4 L677.2,288 L497.5,190.6 Z" fill="#1784c7" stroke="#1784c7" stroke-width="0.5" stroke-linejoin="round"/>
<path d="M468,204.5 L497.5,190.6 L677.2,288 L649.7,296.7 Z" fill="#136fa5" stroke="#136fa5" stroke-width="0.5" stroke-linejoin="round"/>
<path d="M127,373.7 L468,204.5 L468,244.2 L436.4,257.3 L127,392.3 Z" fill="#929395" stroke="#929395" stroke-width="0.5" stroke-linejoin="round"/>
<path d="M468,204.5 L649.7,296.7 L649.7,321 L648.5,321.7 L468,244.2 Z" fill="#6e7075" stroke="#6e7075" stroke-width="0.5" stroke-linejoin="round"/>
<path d="M436.4,257.3 L468,244.2 L648.5,321.7 L621.2,328.6 Z" fill="#433a3b" stroke="#433a3b" stroke-width="0.5" stroke-linejoin="round"/>
<path d="M127,392.3 L436.4,257.3 L435.6,257.5 L435.1,265 L421.7,270.8 L127,397.8 Z" fill="#22a0e4" stroke="#22a0e4" stroke-width="0.5" stroke-linejoin="round"/>
<path d="M436.4,257.3 L621.2,328.6 L620.7,334.8 L435.1,265 L435.6,257.5 Z" fill="#1888cb" stroke="#1888cb" stroke-width="0.5" stroke-linejoin="round"/>
<path d="M421.7,270.8 L435.1,265 L620.7,334.8 L607.4,338 L606.8,339 Z" fill="#0b6fae" stroke="#0b6fae" stroke-width="0.5" stroke-linejoin="round"/>
<path d="M127,397.8 L421.7,270.8 L421.4,285.5 L407,293 L127,401 Z" fill="#d0dae3" stroke="#d0dae3" stroke-width="0.5" stroke-linejoin="round"/>
<path d="M421.7,270.8 L606.8,339 L604.7,346.5 L421.4,285.5 Z" fill="#c8c6c7" stroke="#c8c6c7" stroke-width="0.5" stroke-linejoin="round"/>
<path d="M407,293 L421.4,285.5 L604.7,346.5 L601,348.5 L590.8,349.2 Z" fill="#9e9b9c" stroke="#9e9b9c" stroke-width="0.5" stroke-linejoin="round"/>
<path d="M127,401 L407,293 L590.8,349.2 L308,419.3 Q305,420.3 302,419.8 L131.5,402 Q127.5,401.5 127,400.6 Z" fill="#0770b5" stroke="#0770b5" stroke-width="0.5" stroke-linejoin="round"/>
<!-- dots -->
<g fill="#e8161f" stroke="#ffffff" stroke-width="2.2">
<circle cx="630.9" cy="165" r="4"/>
<circle cx="601.9" cy="199.9" r="4"/>
<circle cx="544.9" cy="181.9" r="4"/>
<circle cx="483.9" cy="191.9" r="4"/>
<circle cx="564.9" cy="326.9" r="4"/>
<circle cx="520.9" cy="292.9" r="4"/>
<circle cx="382.9" cy="263.9" r="4"/>
<circle cx="306.9" cy="350.9" r="4"/>
</g>
<!-- leader lines -->
<g stroke="#fa0a12" stroke-width="1" fill="none" shape-rendering="crispEdges">
<path d="M128,41.5 H631.5 V165"/>
<path d="M128,76.5 H602.5 V200"/>
<path d="M130,104.5 H545.5 V182 M545.5,141.5 H565.5 V327"/>
<path d="M128,131.5 H484.5 V192 M484.5,163.5 H521.5 V293"/>
<path d="M127,178.5 H383.5 V264"/>
<path d="M129,234.5 H307.5 V351"/>
</g>
<!-- labels -->
<g filter="url(#tsh)">
<text class="lb" x="130.2" y="37.1">LỚP PHIM BẢO VỆ (PROTECTIVE PLASTIC FILM)</text>
<text class="lb" x="130.2" y="72.8">LỚP SƠN BỀ MẶT (PVDF PET COATING)</text>
<text class="lb" x="130.2" y="100.5">LỚP NHÔM MẶT TRƯỚC - SAU ( FRONT - BACK ALUMINIUM)</text>
<text class="lb" x="130.4" y="127.3">KEO DÁN (ADHESIVE LAYER)</text>
<text class="lb" x="130.2" y="174.4">LÕI NHỰA (POLYETHYLENE)</text>
<text class="lb" x="132.2" y="228.8">SƠN LÓT MẶT SAU (PRIMER)</text>
</g>
</svg>
</body></html>
